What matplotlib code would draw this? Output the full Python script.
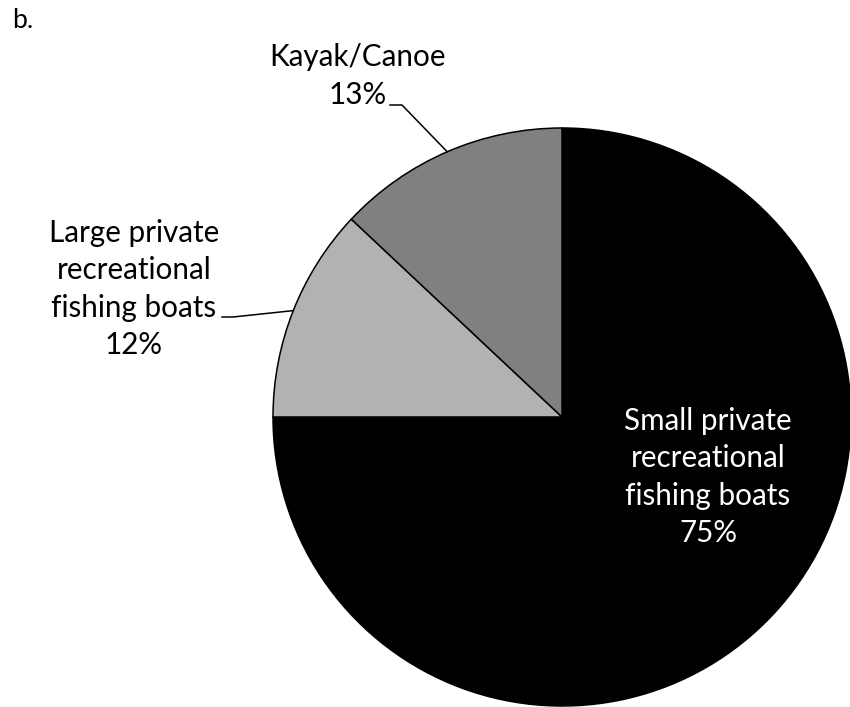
import numpy as np
import matplotlib
matplotlib.use("Agg")
import matplotlib.pyplot as plt

plt.rcParams['font.family'] = ['Lato', 'DejaVu Sans']

categories = ["Small private\nrecreational\nfishing boats",
              "Large private\nrecreational\nfishing boats",
              "Kayak/Canoe"]
shares = [75, 12, 13]
colors = ["#000000", "#b2b2b2", "#808080"]

W, H = 850, 707
fig = plt.figure(figsize=(W / 100, H / 100), dpi=100)
ax = fig.add_axes([0, 0, 1, 1])

cx, cy, r = 562, H - 417, 289
wedges, _ = ax.pie(shares, colors=colors, startangle=90, counterclock=False,
                   center=(cx, cy), radius=r, frame=False,
                   wedgeprops=dict(edgecolor="black", linewidth=1.1))
ax.set_xlim(0, W)
ax.set_ylim(0, H)
ax.set_aspect("equal")
ax.axis("off")

fs = 21.3
ls = 1.42

# label for the large wedge, inside the slice
ax.text(708, H - 477, f"{categories[0]}\n{shares[0]}%", color="white",
        ha="center", va="center", fontsize=fs, linespacing=ls)

# outside labels with leader lines to wedge midpoints
outside = [
    (1, (134, H - 289), [(222, H - 317), (233, H - 317)]),
    (2, (358, H - 76), [(390, H - 105), (402, H - 105)]),
]
for idx, pos, path in outside:
    ax.text(pos[0], pos[1], f"{categories[idx]}\n{shares[idx]}%", color="black",
            ha="center", va="center", fontsize=fs, linespacing=ls)
    w = wedges[idx]
    mid = np.deg2rad((w.theta1 + w.theta2) / 2)
    ex, ey = cx + r * np.cos(mid), cy + r * np.sin(mid)
    xs = [p[0] for p in path] + [ex]
    ys = [p[1] for p in path] + [ey]
    ax.plot(xs, ys, color="black", linewidth=1.1)

fig.text(12 / W, 1 - 21 / H, "b.", fontsize=fs * 0.9, ha="left", va="center")

fig.savefig("out.png", dpi=100)
